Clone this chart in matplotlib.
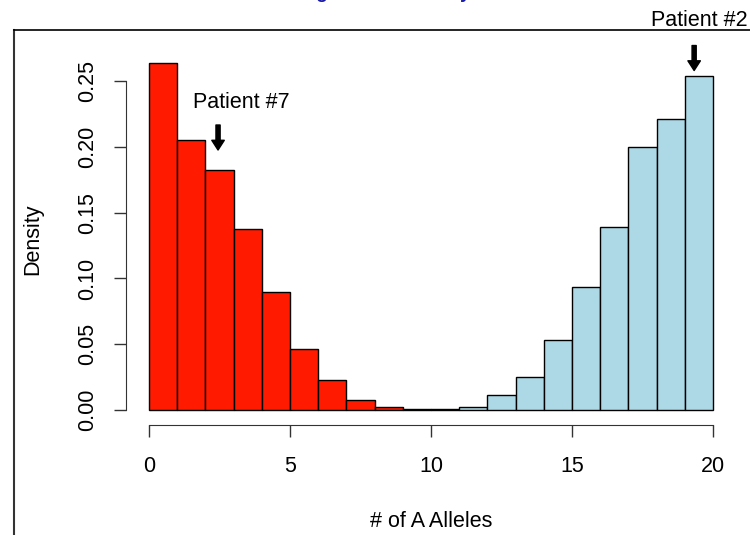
import matplotlib
matplotlib.use("Agg")
import matplotlib.pyplot as plt
from matplotlib.lines import Line2D

plt.rcParams['font.family'] = ['Liberation Sans', 'DejaVu Sans']

# histogram data: number of A alleles (bin left edges) and density
bin_left = list(range(20))
density = [0.2637, 0.2052, 0.1824, 0.1375, 0.0897, 0.0464, 0.0228, 0.0076, 0.0023, 0.0008,
           0.0011, 0.0023, 0.0114, 0.0251, 0.0532, 0.0935, 0.1390, 0.1998, 0.2211, 0.2538]
group = ['red'] * 10 + ['blue'] * 10
x_ticks = [0, 5, 10, 15, 20]
y_ticks = [0.00, 0.05, 0.10, 0.15, 0.20, 0.25]
y_ticklabels = ['0.00', '0.05', '0.10', '0.15', '0.20', '0.25']

# patients marked with arrows
patients = ['Patient #7', 'Patient #2']
patient_x = [2.45, 19.33]

colors = {'red': '#ff1a00', 'blue': '#add8e6'}

fig = plt.figure(figsize=(7.5, 5.35), dpi=100)
ax = fig.add_axes([0.1685, 0.2065, 0.8123, 0.6912])

ax.bar(bin_left, density, width=1, align='edge',
       color=[colors[g] for g in group], edgecolor='black', linewidth=1)

ax.set_xlim(-0.8, 20.8)
ax.set_ylim(-0.011, 0.27)

for s in ['top', 'right']:
    ax.spines[s].set_visible(False)
ax.spines['bottom'].set_bounds(0, 20)
ax.spines['left'].set_bounds(0, 0.25)
ax.spines['bottom'].set_color('#333333')
ax.spines['left'].set_color('#333333')

ax.set_xticks(x_ticks)
ax.set_yticks(y_ticks)
ax.set_yticklabels(y_ticklabels, rotation=90, va='center')
ax.tick_params(axis='both', length=8.5, width=1, labelsize=15.5, color='#333333')
ax.tick_params(axis='x', pad=14.5)
ax.tick_params(axis='y', pad=12)

ax.set_xlabel('# of A Alleles', fontsize=15.5, labelpad=24)
ax.set_ylabel('Density', fontsize=15.5, labelpad=24)

# arrows for patients
arrow_props = dict(width=3, headwidth=9, headlength=7, color='black', shrink=0)
ax.annotate('', xy=(patient_x[0], 0.1976), xytext=(patient_x[0], 0.2166),
            arrowprops=arrow_props, annotation_clip=False)
ax.annotate('', xy=(patient_x[1], 0.258), xytext=(patient_x[1], 0.277),
            arrowprops=arrow_props, annotation_clip=False)
ax.text(patient_x[0] - 0.9, 0.2335, patients[0], fontsize=15.5, va='center', ha='left')
fig.text(0.997, 1 - 20 / 535, patients[1], fontsize=15.5, va='center', ha='right')

# slide frame lines
fig.add_artist(Line2D([14 / 750, 14 / 750], [0, 1 - 30 / 535], transform=fig.transFigure,
                      color='#333333', lw=1.5))
fig.add_artist(Line2D([14 / 750, 1], [1 - 30 / 535, 1 - 30 / 535], transform=fig.transFigure,
                      color='black', lw=1.2))

# slide title, mostly cut off at the top edge
fig.text(370 / 750, 1 + 2 / 535, 'Histogram of Ancestry', fontsize=13.6, fontweight='bold',
         color='#1a1aa6', ha='center', va='baseline')

fig.savefig('out.png', dpi=100)
